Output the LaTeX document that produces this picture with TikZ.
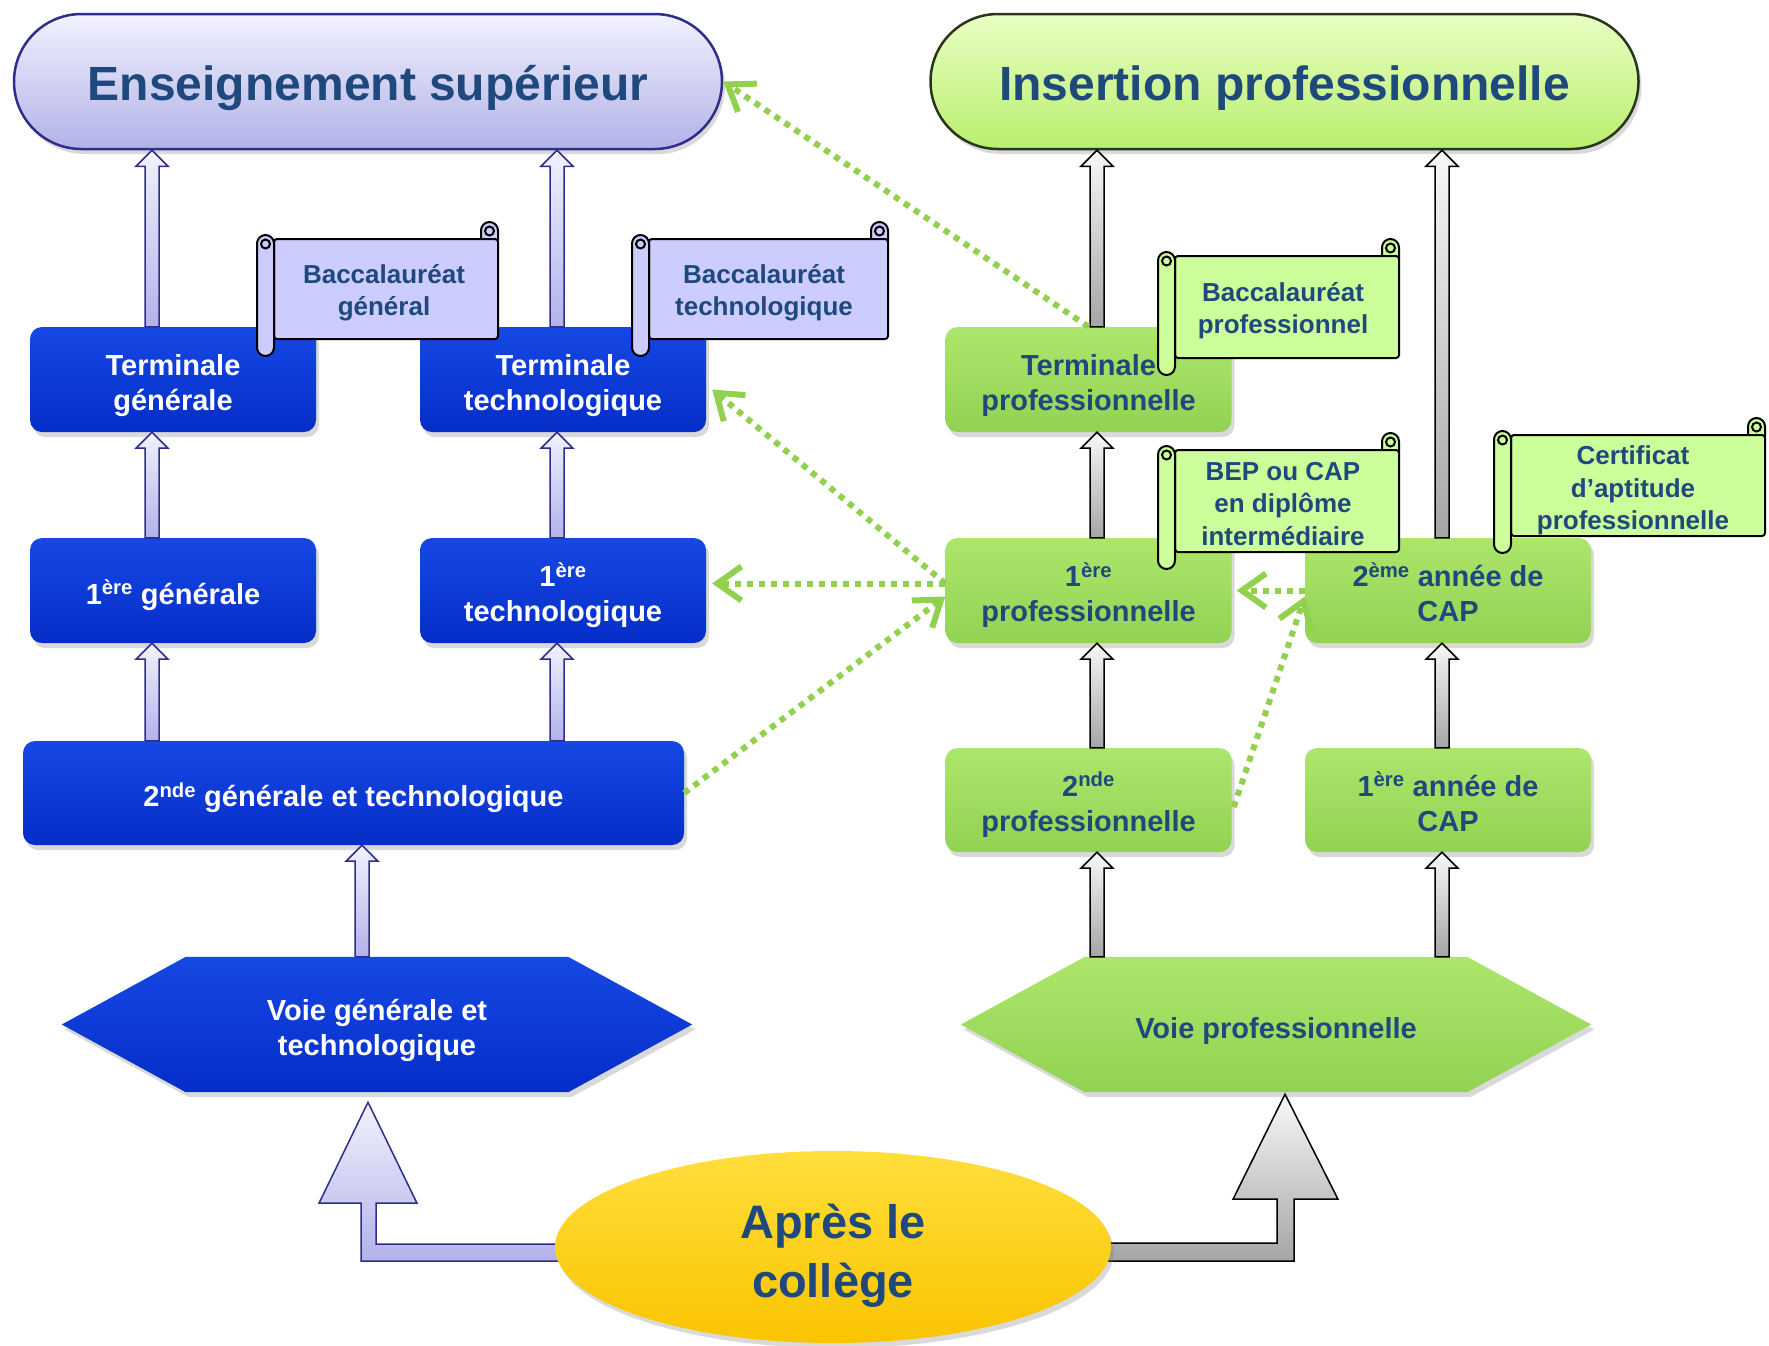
\documentclass[tikz,border=0pt]{standalone}
\usepackage{fontspec}
\setmainfont{Liberation Sans}
\usetikzlibrary{arrows.meta,calc,shapes.misc,shapes.geometric,shadows,backgrounds}

\definecolor{txtblue}{RGB}{31,73,125}
\definecolor{boxblueT}{RGB}{22,72,228}
\definecolor{boxblueB}{RGB}{5,45,200}
\definecolor{boxgreenT}{RGB}{172,230,108}
\definecolor{boxgreenB}{RGB}{146,210,82}
\definecolor{dotgreen}{RGB}{146,208,80}
\definecolor{lavT}{RGB}{242,242,255}
\definecolor{lavB}{RGB}{178,178,232}
\definecolor{lavedge}{RGB}{45,45,140}
\definecolor{pgreenT}{RGB}{232,255,195}
\definecolor{pgreenB}{RGB}{185,238,110}
\definecolor{pgreenedge}{RGB}{40,55,25}
\definecolor{scrlav}{RGB}{204,204,255}
\definecolor{scrgreen}{RGB}{204,255,153}
\definecolor{goldT}{RGB}{255,222,60}
\definecolor{goldB}{RGB}{250,196,0}
\definecolor{greyT}{RGB}{248,248,248}
\definecolor{greyB}{RGB}{165,165,165}

\tikzset{
  shad/.style={drop shadow={shadow xshift=3pt,shadow yshift=-5pt,opacity=0.3}},
  bigfont/.style={font=\fontsize{48}{56}\selectfont\bfseries},
  boxfont/.style={font=\fontsize{29}{35}\selectfont\bfseries},
  scrfont/.style={font=\fontsize{26}{32.5}\selectfont\bfseries, text=txtblue, inner sep=0pt},
  pill/.style={rounded rectangle, minimum width=708pt, minimum height=135pt, inner sep=0pt, bigfont, text=txtblue, line width=2.5pt, shad},
  boxbase/.style={rectangle, rounded corners=12pt, minimum width=286pt, minimum height=105pt, inner sep=0pt, boxfont, shad},
  bluebox/.style={boxbase, top color=boxblueT, bottom color=boxblueB, text=white},
  greenbox/.style={boxbase, top color=boxgreenT, bottom color=boxgreenB, text=txtblue},
  hexnode/.style={rectangle, minimum width=630pt, minimum height=135pt, inner sep=0pt, boxfont},
  lavarrow/.style={draw=lavedge, line width=1.5pt, top color=lavT, bottom color=lavB},
  greyarrow/.style={draw=black, line width=1.5pt, top color=greyT, bottom color=greyB},
  dotarrow/.style={draw=dotgreen, line width=6pt, dash pattern=on 6pt off 6pt, -{Straight Barb[length=24pt,width=34pt,line width=6pt]}},
  scrollline/.style={draw=black, line width=2pt},
}

% centred lines of text, lowered by #1 without changing the box size
\newcommand\mtext[2]{\raisebox{-#1}[\height][\depth]{\begin{tabular}{@{}c@{}}#2\end{tabular}}}

% block arrow pointing up: style, x (px), from point, to point
\newcommand\uparr[4]{\path[#1] let \p1=#3, \p2=#4 in
  ({#2pt-7pt},\y1) -- ({#2pt-7pt},{\y2-16pt}) -- ({#2pt-16pt},{\y2-16pt}) -- ({#2pt},\y2)
  -- ({#2pt+16pt},{\y2-16pt}) -- ({#2pt+7pt},{\y2-16pt}) -- ({#2pt+7pt},\y1) -- cycle;}

% scroll: fill, L, T, R, B (px)
\newcommand\drawscroll[5]{%
  \filldraw[scrollline, fill=#1, rounded corners=8.5pt] ({#4-17},#3) rectangle (#4,{#3+27});
  \filldraw[scrollline, fill=#1, rounded corners=3pt] ({#2+17},{#3+17}) rectangle (#4,{#5-17});
  \filldraw[scrollline, fill=#1, rounded corners=8.5pt] (#2,{#3+13}) rectangle ({#2+17},#5);
  \draw[scrollline] ({#4-8.5},{#3+9}) circle[radius=4.5];
  \draw[scrollline] ({#2+8.5},{#3+22}) circle[radius=4.5];
}

\begin{document}
\begin{tikzpicture}[x=1pt,y=-1pt]
\useasboundingbox (0,0) rectangle (1769,1345);

% top pills
\node[pill, draw=lavedge, top color=lavT, bottom color=lavB] (sup) at (368,81.5) {\mtext{7.5pt}{Enseignement supérieur}};
\node[pill, draw=pgreenedge, top color=pgreenT, bottom color=pgreenB] (ins) at (1284.5,81.5) {\mtext{7.5pt}{Insertion professionnelle}};

% blue boxes
\node[bluebox] (tg) at (173,379.5) {\mtext{6.5pt}{Terminale\\générale}};
\node[bluebox] (ttech) at (563,379.5) {\mtext{6.5pt}{Terminale\\technologique}};
\node[bluebox] (gen1) at (173,590.5) {\mtext{6.5pt}{1\textsuperscript{ère} générale}};
\node[bluebox] (tech1) at (563,590.5) {\mtext{6.5pt}{1\textsuperscript{ère}\\technologique}};
\node[bluebox, minimum width=661pt, minimum height=104pt] (gt2) at (353.5,793) {\mtext{6.5pt}{2\textsuperscript{nde} générale et technologique}};

% green boxes
\node[greenbox] (tpro) at (1088.5,379.5) {\mtext{6.5pt}{Terminale\\professionnelle}};
\node[greenbox] (pro1) at (1088.5,590.5) {\mtext{6.5pt}{1\textsuperscript{ère}\\professionnelle}};
\node[greenbox] (cap2) at (1448,590.5) {\mtext{6.5pt}{2\textsuperscript{ème} année de\\CAP}};
\node[greenbox, minimum height=104pt] (pro2nd) at (1088.5,800) {\mtext{6.5pt}{2\textsuperscript{nde}\\professionnelle}};
\node[greenbox, minimum height=104pt] (cap1) at (1448,800) {\mtext{6.5pt}{1\textsuperscript{ère} année de\\CAP}};

% hexagons
\node[hexnode, text=white] (voieg) at (377,1024.5) {\mtext{6.5pt}{Voie générale et\\technologique}};
\node[hexnode, text=txtblue] (voiep) at (1276,1024.5) {\mtext{6.5pt}{Voie professionnelle}};
\begin{pgfonlayer}{background}
  \path[shad, top color=boxblueT, bottom color=boxblueB]
    (voieg.west) -- ($(voieg.north west)+(124,0)$) -- ($(voieg.north east)+(-124,0)$) -- (voieg.east)
    -- ($(voieg.south east)+(-124,0)$) -- ($(voieg.south west)+(124,0)$) -- cycle;
  \path[shad, top color=boxgreenT, bottom color=boxgreenB]
    (voiep.west) -- ($(voiep.north west)+(124,0)$) -- ($(voiep.north east)+(-124,0)$) -- (voiep.east)
    -- ($(voiep.south east)+(-124,0)$) -- ($(voiep.south west)+(124,0)$) -- cycle;
\end{pgfonlayer}

% block arrows, general side
\uparr{lavarrow}{152}{(tg.north)}{(sup.south)}
\uparr{lavarrow}{557}{(ttech.north)}{(sup.south)}
\uparr{lavarrow}{152}{(gen1.north)}{(tg.south)}
\uparr{lavarrow}{557}{(tech1.north)}{(ttech.south)}
\uparr{lavarrow}{152}{(gt2.north)}{(gen1.south)}
\uparr{lavarrow}{557}{(gt2.north)}{(tech1.south)}
\uparr{lavarrow}{362}{(voieg.north)}{(gt2.south)}

% block arrows, professional side
\uparr{greyarrow}{1097}{(tpro.north)}{(ins.south)}
\uparr{greyarrow}{1442}{(cap2.north)}{(ins.south)}
\uparr{greyarrow}{1097}{(pro1.north)}{(tpro.south)}
\uparr{greyarrow}{1097}{(pro2nd.north)}{(pro1.south)}
\uparr{greyarrow}{1442}{(cap1.north)}{(cap2.south)}
\uparr{greyarrow}{1097}{(voiep.north)}{(pro2nd.south)}
\uparr{greyarrow}{1442}{(voiep.north)}{(cap1.south)}

% scrolls
\drawscroll{scrlav}{257}{222}{498}{356}
\node[scrfont] (bacg) at (384,289) {\mtext{4pt}{Baccalauréat\\général}};
\drawscroll{scrlav}{632}{222}{888}{356}
\node[scrfont] (bact) at (764,289) {\mtext{4pt}{Baccalauréat\\technologique}};
\drawscroll{scrgreen}{1158}{239}{1399}{375}
\node[scrfont] (bacp) at (1283,307) {\mtext{4pt}{Baccalauréat\\professionnel}};
\drawscroll{scrgreen}{1158}{433}{1399}{569}
\node[scrfont] (bep) at (1283,502) {\mtext{4pt}{BEP ou CAP\\en diplôme\\intermédiaire}};
\drawscroll{scrgreen}{1494}{418}{1765}{553}
\node[scrfont] (cert) at (1633,486.5) {\mtext{4pt}{Certificat\\d’aptitude\\professionnelle}};

% dotted green arrows
\draw[dotarrow] (tpro.north) -- (sup.east);
\draw[dotarrow] ($(pro1.west)+(0,-7)$) -- ($(ttech.east)+(6,10)$);
\draw[dotarrow] ($(pro1.west)+(0,-7)$) -- ($(tech1.east)+(6,-7)$);
\draw[dotarrow] (gt2.east) -- ($(pro1.west)+(0,6)$);
\draw[dotarrow] (cap2.west) -- ($(pro1.east)+(5,0)$);
\draw[dotarrow] ($(pro2nd.east)+(2,7)$) -- ($(cap2.west)+(0,6)$);

% bottom: bent arrows and ellipse
\coordinate (apresc) at (833,1247);
\path[lavarrow] let \p1=(apresc), \p2=(voieg.south) in
  (\x1,{\y1+3pt}) -- (376pt,{\y1+3pt}) -- (376pt,{\y2-111pt}) -- (417pt,{\y2-111pt})
  -- (368pt,{\y2-10pt}) -- (319pt,{\y2-111pt}) -- (361pt,{\y2-111pt}) -- (361pt,{\y1-14pt})
  -- (\x1,{\y1-14pt}) -- cycle;
\path[greyarrow] let \p1=(apresc), \p2=(voiep.south) in
  (\x1,{\y1+4pt}) -- (1277pt,{\y1+4pt}) -- (1277pt,{\y2-107pt}) -- (1233pt,{\y2-107pt})
  -- (1285pt,{\y2-2pt}) -- (1338pt,{\y2-107pt}) -- (1294pt,{\y2-107pt}) -- (1294pt,{\y1-14pt})
  -- (\x1,{\y1-14pt}) -- cycle;
\node[ellipse, minimum width=556pt, minimum height=192pt, inner sep=0pt, top color=goldT, bottom color=goldB,
  font=\fontsize{47}{59}\selectfont\bfseries, text=txtblue, shad] (apres) at (apresc) {\mtext{9.5pt}{Après le\\collège}};

\end{tikzpicture}
\end{document}
